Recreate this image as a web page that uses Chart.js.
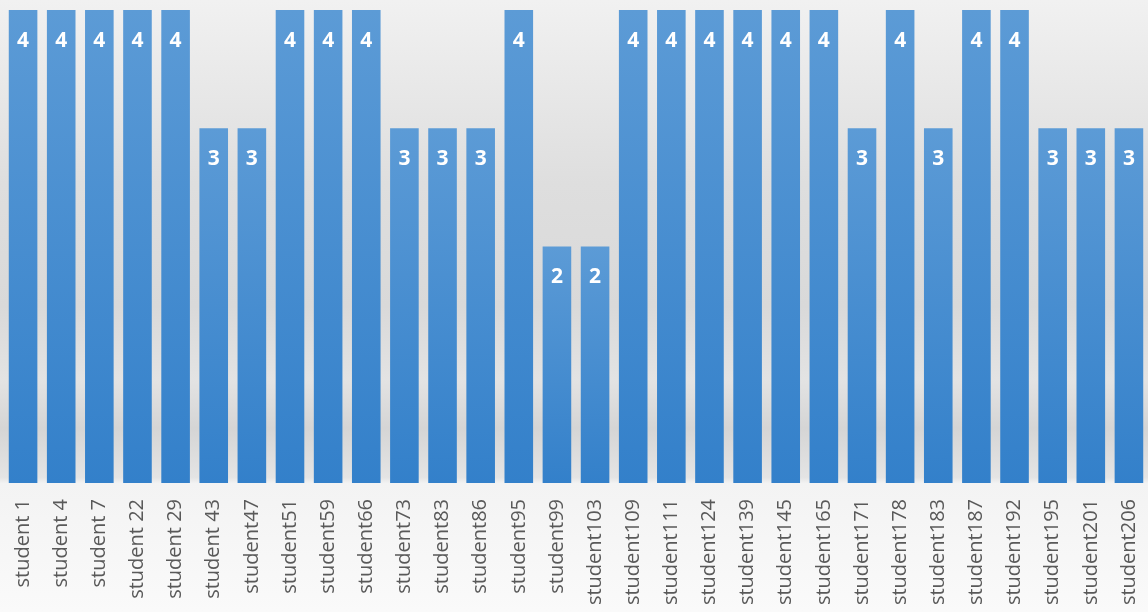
<!DOCTYPE html>
<html>
<head>
<meta charset="utf-8">
<script src="https://cdn.jsdelivr.net/npm/chart.js@4"></script>
<style>
  html, body { margin: 0; padding: 0; background: #f6f6f6; }
  #wrap { width: 1148px; height: 612px; }
</style>
</head>
<body>
<div id="wrap"><canvas id="gradesChart" width="1148" height="612"></canvas></div>
<script>
// Data
const students = ['student 1', 'student 4', 'student 7', 'student 22', 'student 29', 'student 43',
    'student47', 'student51', 'student59', 'student66', 'student73', 'student83', 'student86',
    'student95', 'student99', 'student103', 'student109', 'student111', 'student124', 'student139',
    'student145', 'student165', 'student171', 'student178', 'student183', 'student187', 'student192',
    'student195', 'student201', 'student206'];
const grades = [4, 4, 4, 4, 4, 3, 3, 4, 4, 4, 3, 3, 3, 4, 2, 2, 4, 4, 4, 4, 4, 4, 3, 4, 3, 4, 4, 3, 3, 3];

// Grey background with the soft shadow band near the bottom of the plot
const backdrop = {
    id: 'backdrop',
    beforeDraw(chart) {
        const c = chart.ctx;
        const h = chart.height;
        const g = c.createLinearGradient(0, 0, 0, h);
        g.addColorStop(0, '#f1f1f1');
        g.addColorStop(0.30, '#dedede');
        g.addColorStop(0.50, '#d9d9d9');
        g.addColorStop(0.62, '#e3e3e3');
        g.addColorStop(0.70, '#d5d5d5');
        g.addColorStop(0.78, '#e4e4e4');
        g.addColorStop(0.79, '#f3f3f3');
        g.addColorStop(1, '#fafafa');
        c.save();
        c.fillStyle = g;
        c.fillRect(0, 0, chart.width, h);
        c.restore();
    }
};

// White bold value near the top of each bar
const valueLabels = {
    id: 'valueLabels',
    afterDatasetsDraw(chart) {
        const c = chart.ctx;
        const meta = chart.getDatasetMeta(0);
        c.save();
        c.fillStyle = '#ffffff';
        c.font = 'bold 21px "Open Sans"';
        c.textAlign = 'center';
        c.textBaseline = 'middle';
        meta.data.forEach((bar, i) => {
            c.fillText(grades[i], bar.x, bar.y + 31);
        });
        c.restore();
    }
};

const ctx = document.getElementById('gradesChart').getContext('2d');
const chart = new Chart(ctx, {
    type: 'bar',
    data: {
        labels: students,
        datasets: [{
            data: grades,
            backgroundColor: function(context) {
                const ch = context.chart;
                if (!ch.chartArea) return '#4a8ed2';
                const y = ch.scales.y;
                const top = y.getPixelForValue(context.raw);
                const bottom = y.getPixelForValue(0);
                const g = ch.ctx.createLinearGradient(0, top, 0, bottom);
                g.addColorStop(0, '#5c9bd6');
                g.addColorStop(1, '#3380ca');
                return g;
            },
            borderWidth: 0,
            barPercentage: 0.75,
            categoryPercentage: 1.0
        }]
    },
    options: {
        responsive: false,
        animation: false,
        layout: { padding: { top: 10, left: 4, right: -2, bottom: 0 } },
        plugins: {
            legend: { display: false },
            tooltip: { enabled: false }
        },
        scales: {
            x: {
                grid: { display: false },
                border: { display: false },
                ticks: {
                    color: '#595959',
                    font: { family: '"Open Sans"', size: 20 },
                    minRotation: 90,
                    maxRotation: 90,
                    autoSkip: false,
                    padding: 8
                },
                afterFit(scale) {
                    scale.height = 129;
                    scale.paddingLeft = 0;
                    scale.paddingRight = 0;
                }
            },
            y: {
                display: false,
                min: 0,
                max: 4
            }
        }
    },
    plugins: [backdrop, valueLabels]
});
</script>
</body>
</html>
